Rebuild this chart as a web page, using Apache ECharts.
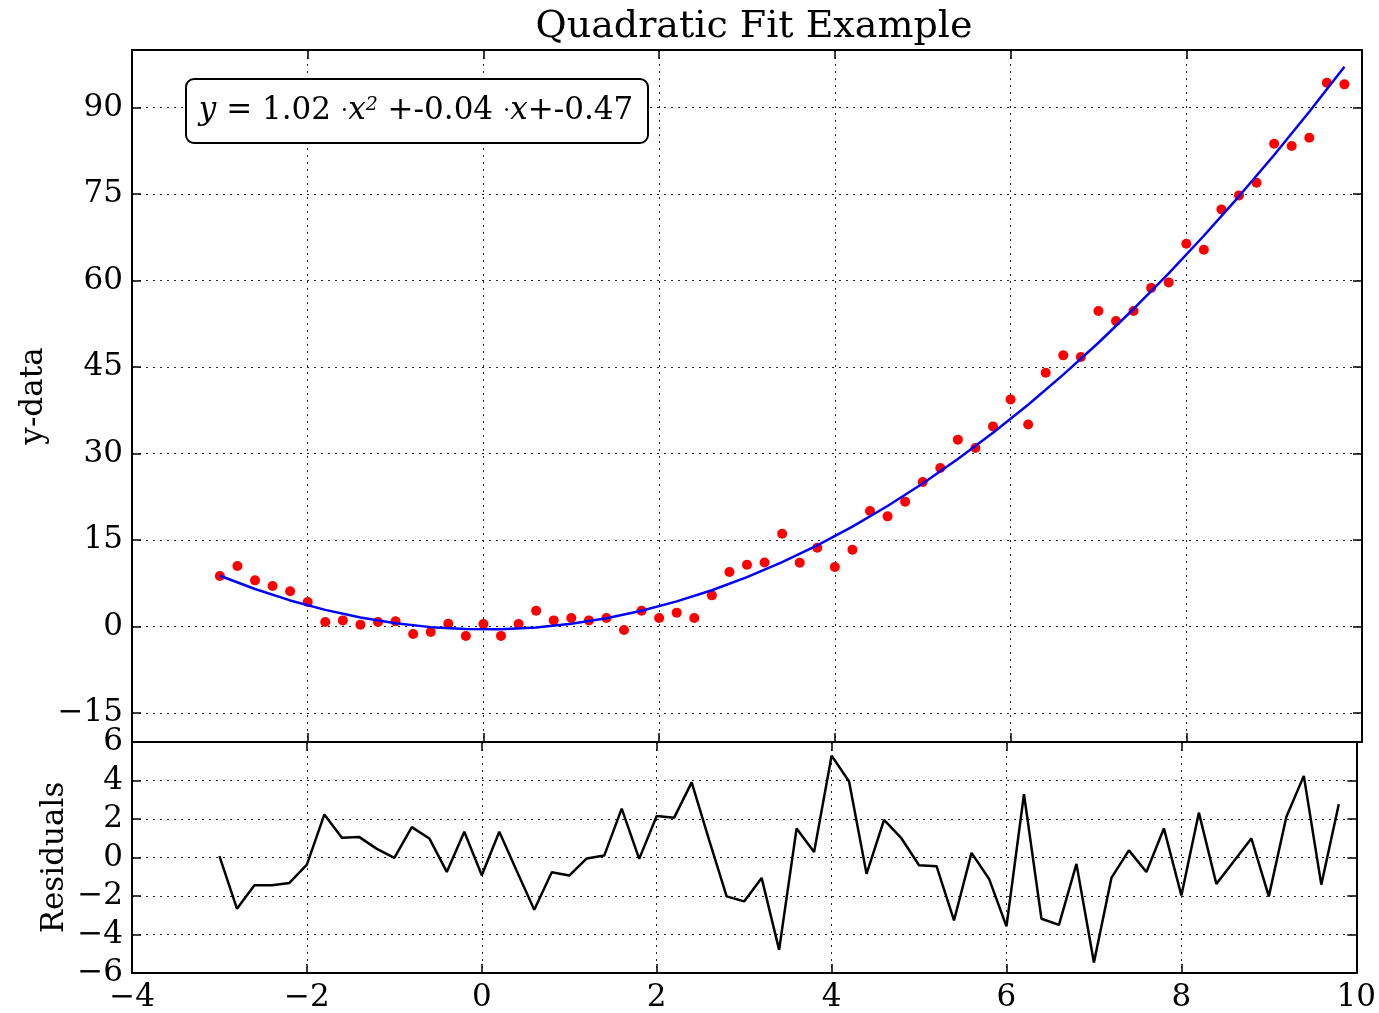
<!DOCTYPE html>
<html>
<head>
<meta charset="utf-8">
<title>Quadratic Fit Example</title>
<script src="https://cdn.jsdelivr.net/npm/echarts@6/dist/echarts.min.js"></script>
<style>
  html, body { margin: 0; padding: 0; background: #fff; }
  #main { width: 1379px; height: 1013px; }
</style>
</head>
<body>
<div id="main"></div>
<script>
// sample positions
const xValues = [-3, -2.8, -2.6, -2.4, -2.2, -2, -1.8, -1.6, -1.4, -1.2,
  -1, -0.8, -0.6, -0.4, -0.2, 0, 0.2, 0.4, 0.6, 0.8,
  1, 1.2, 1.4, 1.6, 1.8, 2, 2.2, 2.4, 2.6, 2.8,
  3, 3.2, 3.4, 3.6, 3.8, 4, 4.2, 4.4, 4.6, 4.8,
  5, 5.2, 5.4, 5.6, 5.8, 6, 6.2, 6.4, 6.6, 6.8,
  7, 7.2, 7.4, 7.6, 7.8, 8, 8.2, 8.4, 8.6, 8.8,
  9, 9.2, 9.4, 9.6, 9.8];

// red dots
const yData = [8.79, 10.52, 8.03, 7.05, 6.13, 4.28, 0.81, 1.09, 0.35, 0.81,
  0.92, -1.27, -0.92, 0.52, -1.62, 0.47, -1.6, 0.47, 2.77, 1.09,
  1.51, 1.09, 1.51, -0.57, 2.77, 1.51, 2.43, 1.51, 5.43, 9.49,
  10.75, 11.13, 16.1, 11.1, 13.7, 10.35, 13.35, 20.06, 19.13, 21.68,
  25.09, 27.52, 32.43, 30.99, 34.73, 39.41, 35.05, 44.04, 47.05, 46.76,
  54.74, 53.0, 54.74, 58.75, 59.7, 66.41, 65.37, 72.36, 74.79, 76.99,
  83.75, 83.35, 84.79, 94.33, 94.04];

// lower panel
const residuals = [0.07, -2.66, -1.44, -1.44, -1.32, -0.37, 2.24, 1.03, 1.06, 0.45,
  -0.02, 1.58, 0.99, -0.75, 1.34, -0.92, 1.34, -0.7, -2.71, -0.77,
  -0.94, -0.05, 0.10, 2.54, -0.07, 2.16, 2.07, 3.9, 0.9, -2.02,
  -2.28, -1.06, -4.8, 1.51, 0.28, 5.29, 3.95, -0.85, 1.95, 0.99,
  -0.4, -0.45, -3.27, 0.24, -1.1, -3.58, 3.29, -3.18, -3.5, -0.33,
  -5.45, -1.06, 0.37, -0.75, 1.51, -1.97, 2.33, -1.37, -0.2, 0.99,
  -2.02, 2.1, 4.24, -1.41, 2.77];

// blue fitted curve
const fitX = [-3, -2.6, -2.2, -1.8, -1.4, -1, -0.6, -0.2, 0.2, 0.6, 1, 1.4, 1.8,
  2.2, 2.6, 3, 3.4, 3.8, 4.2, 4.6, 5, 5.4, 5.8, 6.2, 6.6, 7, 7.4, 7.8,
  8.2, 8.6, 9, 9.4, 9.8];
const fitY = [8.83, 6.53, 4.55, 2.91, 1.59, 0.59, -0.08, -0.42, -0.44, -0.13, 0.51, 1.47, 2.76,
  4.38, 6.32, 8.59, 11.19, 14.11, 17.36, 20.93, 24.83, 29.06, 33.61, 38.49, 43.70, 49.23, 55.09, 61.27,
  67.79, 74.63, 81.79, 89.28, 97.10];

const yTicksTop = [-15, 0, 15, 30, 45, 60, 75, 90];
const equationText = '{it|y} = 1.02 {dot|·}{it|x}{sup|2} +-0.04 {dot|·}{it|x}+-0.47';

const FONT = 'DejaVu Serif';
const minus = v => String(v).replace('-', '\u2212');

const chart = echarts.init(document.getElementById('main'));

const dotted = { show: true, lineStyle: { color: '#222', width: 1, type: [2, 5] } };
const frame = { show: true, onZero: false, lineStyle: { color: '#000', width: 2 } };
const tick = { show: true, inside: true, length: 9, lineStyle: { color: '#000', width: 1.5 } };
const label = {
  fontFamily: FONT, fontSize: 31, color: '#000', margin: 9,
  showMinLabel: true, showMaxLabel: true, formatter: minus
};
const nameStyle = { fontFamily: FONT, fontSize: 31, color: '#000' };

function xAxisFor(grid, pos, withLabels, grids) {
  return {
    type: 'value', gridIndex: grid, position: pos,
    min: -4, max: 10, interval: 2,
    axisLine: frame, axisTick: tick,
    axisLabel: Object.assign({}, label, { show: withLabels }),
    splitLine: grids ? dotted : { show: false }
  };
}

chart.setOption({
  animation: false,
  backgroundColor: '#fff',
  title: {
    text: 'Quadratic Fit Example',
    left: 749, top: 3, textAlign: 'center',
    textStyle: { fontFamily: FONT, fontSize: 38, fontWeight: 'normal', color: '#000' }
  },
  grid: [
    { left: 132, top: 50, width: 1230, height: 692 },
    { left: 132, top: 742, width: 1230, height: 231 }
  ],
  xAxis: [
    xAxisFor(0, 'bottom', false, true),
    xAxisFor(0, 'top', false, false),
    xAxisFor(1, 'bottom', true, true),
    xAxisFor(1, 'top', false, false)
  ],
  yAxis: [
    {
      type: 'value', gridIndex: 0, position: 'left', min: -20, max: 100,
      name: 'y-data', nameLocation: 'middle', nameGap: 83, nameRotate: 90,
      nameMoveOverlap: false,
      nameTextStyle: nameStyle,
      axisLine: frame,
      axisTick: Object.assign({}, tick, { customValues: yTicksTop }),
      axisLabel: Object.assign({}, label, { customValues: yTicksTop, showMinLabel: null, showMaxLabel: null }),
      splitLine: dotted
    },
    {
      type: 'value', gridIndex: 0, position: 'right', min: -20, max: 100,
      axisLine: frame,
      axisTick: Object.assign({}, tick, { customValues: yTicksTop }),
      axisLabel: { show: false },
      splitLine: { show: false }
    },
    {
      type: 'value', gridIndex: 1, position: 'left', min: -6, max: 6, interval: 2,
      name: 'Residuals', nameLocation: 'middle', nameGap: 62, nameRotate: 90,
      nameMoveOverlap: false,
      nameTextStyle: nameStyle,
      axisLine: frame, axisTick: tick, axisLabel: label,
      splitLine: dotted
    },
    {
      type: 'value', gridIndex: 1, position: 'right', min: -6, max: 6, interval: 2,
      axisLine: frame, axisTick: tick, axisLabel: { show: false },
      splitLine: { show: false }
    }
  ],
  graphic: [
    {
      type: 'rect', left: 185, top: 78, z: 10,
      shape: { width: 462, height: 64, r: 8 },
      style: { fill: '#fff', stroke: '#000', lineWidth: 2 }
    },
    {
      type: 'text', x: 416, y: 111, z: 11,
      style: {
        text: equationText, align: 'center', verticalAlign: 'middle',
        fontFamily: FONT, fontSize: 31, fill: '#000',
        rich: {
          it: { fontFamily: FONT, fontStyle: 'italic', fontSize: 31 },
          dot: { fontFamily: FONT, fontSize: 23 },
          sup: { fontFamily: FONT, fontStyle: 'italic', fontSize: 19, verticalAlign: 'top' }
        }
      }
    }
  ],
  series: [
    {
      type: 'scatter', xAxisIndex: 0, yAxisIndex: 0,
      symbol: 'circle', symbolSize: 10,
      itemStyle: { color: '#ff0000', opacity: 1 },
      data: xValues.map((x, i) => [x, yData[i]]),
      z: 3
    },
    {
      type: 'line', xAxisIndex: 0, yAxisIndex: 0,
      showSymbol: false,
      lineStyle: { color: '#0000ff', width: 2.5 },
      data: fitX.map((x, i) => [x, fitY[i]]),
      z: 4
    },
    {
      type: 'line', xAxisIndex: 2, yAxisIndex: 2,
      showSymbol: false,
      lineStyle: { color: '#000', width: 2.5 },
      data: xValues.map((x, i) => [x, residuals[i]])
    }
  ]
});
</script>
</body>
</html>
